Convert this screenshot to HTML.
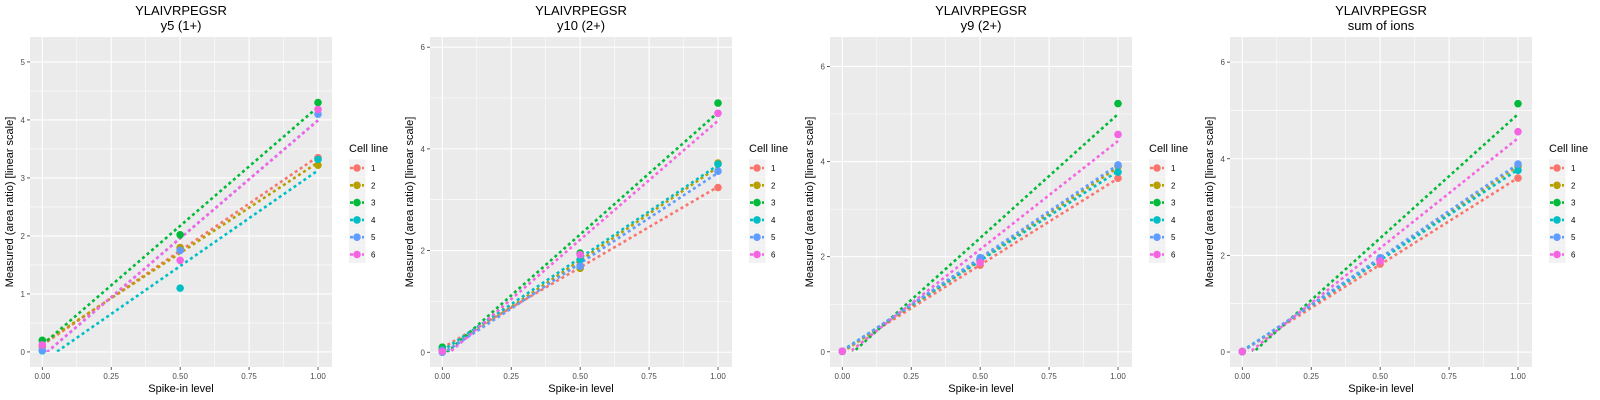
<!DOCTYPE html>
<html><head><meta charset="utf-8"><style>
body{margin:0;background:#fff;}
svg{display:block;font-family:"Liberation Sans",sans-serif;}
</style></head><body>
<svg id="c" width="1600" height="400"></svg>
<script>
const titles = ["y5 (1+)", "y10 (2+)", "y9 (2+)", "sum of ions"];
const peptide = "YLAIVRPEGSR";
const xVals = [0, 0.5, 1];
const xTicks = [0, 0.25, 0.5, 0.75, 1];
const xTickLabels = ["0.00", "0.25", "0.50", "0.75", "1.00"];
const cellLines = ["1", "2", "3", "4", "5", "6"];
const colors = ["#F8766D", "#B79F00", "#00BA38", "#00BFC4", "#619CFF", "#F564E3"];
const yDomains = [[-0.26, 5.43], [-0.29, 6.2], [-0.32, 6.62], [-0.31, 6.52]];
const yTicks = [[0, 1, 2, 3, 4, 5], [0, 2, 4, 6], [0, 2, 4, 6], [0, 2, 4, 6]];
const yMinor = [[0.5, 1.5, 2.5, 3.5, 4.5], [1, 3, 5], [1, 3, 5], [1, 3, 5]];
// values[panel][cellLine] = [y at 0, y at 0.5, y at 1]
const valuesY5 = [[0.10,1.78,3.35],[0.10,1.80,3.22],[0.20,2.02,4.30],[0.02,1.10,3.32],[0.03,1.75,4.10],[0.12,1.58,4.18]];
const valuesY10 = [[0.07,1.70,3.24],[0.05,1.65,3.72],[0.10,1.95,4.90],[0.05,1.82,3.70],[0.00,1.69,3.56],[0.02,1.92,4.70]];
const valuesY9 = [[0.01,1.82,3.65],[0.01,1.90,3.90],[0.01,1.95,5.22],[0.01,1.95,3.78],[0.01,1.98,3.93],[0.01,1.88,4.57]];
const valuesSum = [[0.01,1.82,3.60],[0.01,1.93,3.85],[0.01,1.92,5.14],[0.01,1.93,3.76],[0.01,1.95,3.89],[0.01,1.88,4.56]];
const values = [valuesY5, valuesY10, valuesY9, valuesSum];

const NS = "http://www.w3.org/2000/svg";
const svg = document.getElementById("c");
function mk(tag, attrs, parent, text){
  const e = document.createElementNS(NS, tag);
  for (const k in attrs) e.setAttribute(k, attrs[k]);
  if (text !== undefined) e.textContent = text;
  (parent || svg).appendChild(e);
  return e;
}
const L = 30, R = 332, T = 37, B = 367;
const X0 = 42.3, X1 = 318;
for (let p = 0; p < 4; p++) {
  const ox = p * 400;
  const g = mk("g", {transform: `translate(${ox},0)`});
  
  
  const [ymin, ymax] = yDomains[p];
  const sx = v => X0 + (X1 - X0) * v;
  const sy = v => B - (v - ymin) / (ymax - ymin) * (B - T);
  const bg = mk("rect", {x: L, y: T, width: R - L, height: B - T, fill: "#EBEBEB"}, g);
  
  
  // minor grid
  for (let i = 0; i < xTicks.length - 1; i++) {
    const xv = (xTicks[i] + xTicks[i + 1]) / 2;
    const gl = mk("line", {x1: sx(xv), x2: sx(xv), y1: T, y2: B, stroke: "#fff", "stroke-width": 0.55}, g);
    
    
  }
  yMinor[p].forEach(v => {
    const gl = mk("line", {x1: L, x2: R, y1: sy(v), y2: sy(v), stroke: "#fff", "stroke-width": 0.55}, g);
    
    
  });
  xTicks.forEach((v, i) => {
    const gl = mk("line", {x1: sx(v), x2: sx(v), y1: T, y2: B, stroke: "#fff", "stroke-width": 1.1}, g);
    
    
    const tk = mk("line", {x1: sx(v), x2: sx(v), y1: B, y2: B + 3, stroke: "#333", "stroke-width": 0.8}, g);
    
    
    const t = mk("text", {x: sx(v), y: B + 12, "font-size": 8, fill: "#4D4D4D", "text-anchor": "middle"}, g, xTickLabels[i]);
    
    
  });
  yTicks[p].forEach(v => {
    const gl = mk("line", {x1: L, x2: R, y1: sy(v), y2: sy(v), stroke: "#fff", "stroke-width": 1.1}, g);
    
    
    const tk = mk("line", {x1: L - 3, x2: L, y1: sy(v), y2: sy(v), stroke: "#333", "stroke-width": 0.8}, g);
    
    
    const t = mk("text", {x: L - 5, y: sy(v) + 3, "font-size": 8, fill: "#4D4D4D", "text-anchor": "end"}, g, String(v));
    
    
  });
  // fit lines
  const clipId = "clip" + p;
  const cp = mk("clipPath", {id: clipId}, g);
  mk("rect", {x: L, y: T, width: R - L, height: sy(0) - T}, cp);
  values[p].forEach((ys, ci) => {
    const mx = xVals.reduce((a, b) => a + b, 0) / xVals.length;
    const my = ys.reduce((a, b) => a + b, 0) / ys.length;
    let num = 0, den = 0;
    xVals.forEach((x, i) => { num += (x - mx) * (ys[i] - my); den += (x - mx) * (x - mx); });
    const slope = num / den, icp = my - slope * mx;
    const ln = mk("line", {x1: sx(0), y1: sy(icp), x2: sx(1), y2: sy(icp + slope), stroke: colors[ci], "stroke-width": 2.6, "stroke-dasharray": "3,3", "clip-path": `url(#${clipId})`}, g);
    
    
  });
  values[p].forEach((ys, ci) => {
    ys.forEach((y, i) => {
      const c = mk("circle", {cx: sx(xVals[i]), cy: sy(y), r: 3.8, fill: colors[ci]}, g);
      
      
    });
  });
  const t1 = mk("text", {x: (L + R) / 2, y: 15, "font-size": 13, fill: "#000", "text-anchor": "middle"}, g, peptide);
  
  
  const t2 = mk("text", {x: (L + R) / 2, y: 30, "font-size": 13, fill: "#000", "text-anchor": "middle"}, g, titles[p]);
  
  
  const xt = mk("text", {x: (L + R) / 2, y: 392, "font-size": 11, fill: "#000", "text-anchor": "middle"}, g, "Spike-in level");
  
  
  const yt = mk("text", {x: 0, y: 0, "font-size": 11, fill: "#000", "text-anchor": "middle", transform: `translate(13,${(T + B) / 2}) rotate(-90)`}, g, "Measured (area ratio) [linear scale]");
  
  
  const lg = mk("g", {}, g);
  
  
  const lt = mk("text", {x: 349, y: 152, "font-size": 11, fill: "#000"}, lg, "Cell line");
  
  
  cellLines.forEach((cl, ci) => {
    const cy = 168 + ci * 17.3;
    const kb = mk("rect", {x: 349, y: cy - 8.5, width: 16.5, height: 17, fill: "#F2F2F2"}, lg);
    
    
    const kl = mk("line", {x1: 350, x2: 364, y1: cy, y2: cy, stroke: colors[ci], "stroke-width": 2.6, "stroke-dasharray": "3,3"}, lg);
    
    
    const kc = mk("circle", {cx: 357, cy: cy, r: 3.8, fill: colors[ci]}, lg);
    
    
    const kt = mk("text", {x: 371, y: cy + 3, "font-size": 8, fill: "#000"}, lg, cl);
    
    
  });
}
</script>
</body></html>
